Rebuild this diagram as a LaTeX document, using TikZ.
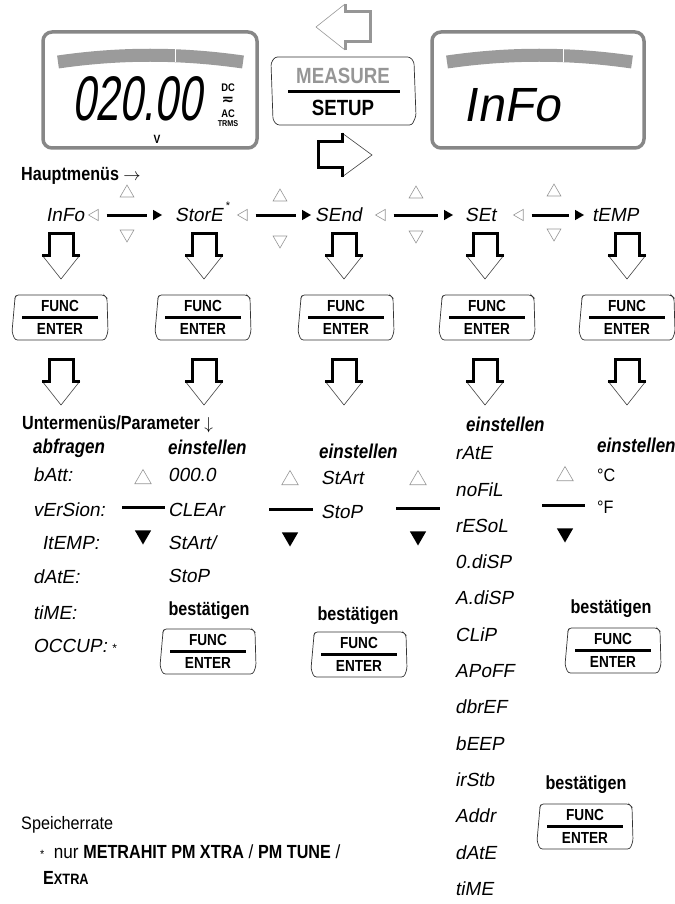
\documentclass[tikz,border=0pt]{standalone}
\usepackage{fontspec}
\setmainfont{Liberation Sans}
\newfontfamily\condfont[FakeStretch=0.85]{Liberation Sans}
\newfontfamily\notefont[FakeStretch=0.9]{Liberation Sans}
\newfontfamily\lcdfont[FakeSlant=0.18]{Liberation Sans}
\newfontfamily\lcdnarrow[FakeSlant=0.15,FakeStretch=0.67]{Liberation Sans}
\newfontfamily\symfont{DejaVu Sans}
\usetikzlibrary{shapes.geometric,positioning,calc}
\definecolor{lcdgray}{RGB}{135,135,135}
\definecolor{bargray}{RGB}{155,155,155}
\definecolor{markgray}{RGB}{150,150,150}

\newcommand{\lcdfnt}{\lcdfont\fontsize{19}{21}\selectfont}
\newcommand{\lblfnt}{\condfont\bfseries\fontsize{19}{21}\selectfont}
\newcommand{\italfnt}{\condfont\bfseries\itshape\fontsize{20}{22}\selectfont}
\newcommand{\keyfnt}{\condfont\bfseries\fontsize{16}{17}\selectfont}
\newcommand{\boldcond}{\condfont\bfseries}

% key cap with FUNC / ENTER
\newcommand{\funckey}[3]{%
  \begin{scope}[shift={(#2,#3)}]
    \draw[keyframe] (-44,-22) -- (44,-22) -- (47,-19) -- (48,15) -- (45,23)
       -- (-45,23) -- (-48,15) -- (-45,-19) -- cycle;
    \node[keytxt] (#1f) at (0,-11) {FUNC};
    \node[keytxt] (#1e) at (0,12) {ENTER};
    \draw[line width=3pt] (-38,0) -- (38,0);
  \end{scope}}

% press arrow pointing down, #1/#2 = top of the pulse
\newcommand{\pressdown}[2]{%
  \draw[tipline] (#1-19,#2+22) -- (#1,#2+46) -- (#1+19,#2+22);
  \draw[pulse] (#1-19,#2+22) -- (#1-12,#2+22) -- (#1-12,#2) -- (#1+12,#2)
     -- (#1+12,#2+22) -- (#1+19,#2+22);}

\begin{document}
\begin{tikzpicture}[x=1pt,y=-1pt,
   lcd/.style={font=\lcdfnt,inner sep=0pt,anchor=west},
   lbl/.style={font=\lblfnt,inner sep=0pt},
   ital/.style={font=\italfnt,inner sep=0pt,anchor=west},
   keytxt/.style={font=\keyfnt,inner sep=0pt},
   keyframe/.style={draw=black!80,line width=0.7pt,rounded corners=2.5pt,fill=white},
   hol/.style={regular polygon,regular polygon sides=3,draw=markgray,line width=0.6pt,inner sep=0pt},
   sol/.style={regular polygon,regular polygon sides=3,fill=black,inner sep=0pt},
   sepline/.style={line width=3pt},
   pulse/.style={line width=3pt,line join=miter},
   tipline/.style={draw=black!75,line width=0.6pt},
   lcdframe/.style={draw=lcdgray,line width=3.5pt,rounded corners=9pt},
   bar/.style={draw=bargray,line width=13pt}]
  \useasboundingbox (0,0) rectangle (674,904);

  % displays
  \draw[lcdframe] (43,32) rectangle (257,148);
  \draw[bar] (58,62) .. controls (120,53) and (180,53) .. (243,62);
  \draw[white,line width=0.6pt] (175,49) -- (175,62);
  \node[font=\lcdnarrow\fontsize{63}{63}\selectfont,inner sep=0pt,text depth=0pt] (val) at (137,99) {020.00};
  \node[font=\boldcond\fontsize{12}{12}\selectfont,inner sep=0pt] (unit) at (157,139.5) {V};
  \node[font=\boldcond\fontsize{11}{11}\selectfont,inner sep=0pt] (dc) at (228,88) {DC};
  \node[font=\symfont\bfseries\fontsize{15}{15}\selectfont,inner sep=0pt] (acdc) at (228,101) {≂};
  \node[font=\boldcond\fontsize{11}{11}\selectfont,inner sep=0pt] (ac) at (228,114) {AC};
  \node[font=\boldcond\fontsize{8.5}{9}\selectfont,inner sep=0pt] (trms) at (228,124) {TRMS};

  \draw[lcdframe] (432,32) rectangle (644,148);
  \draw[bar] (447,62) .. controls (509,53) and (569,53) .. (632,62);
  \draw[white,line width=0.6pt] (563,49) -- (563,62);
  \node[font=\lcdfont\fontsize{48}{48}\selectfont,inner sep=0pt] (infodisp) at (512,105) {InFo};

  % MEASURE / SETUP key and its arrows
  \draw[keyframe] (275,57) -- (410,57) -- (414,62) -- (416,116) -- (412,125)
     -- (277,125) -- (273,120) -- (271,63) -- cycle;
  \node[font=\boldcond\fontsize{22}{22}\selectfont,text=markgray,inner sep=0pt] (meas) at (343,76) {MEASURE};
  \node[font=\boldcond\fontsize{22}{22}\selectfont,inner sep=0pt] (setup) at (343,108) {SETUP};
  \draw[line width=3pt] (288,92) -- (400,92);
  \draw[tipline,draw=markgray] (345,4) -- (316,27) -- (345,50);
  \draw[pulse,markgray] (345,4) -- (345,12) -- (370,12) -- (370,42) -- (345,42) -- (345,50);
  \draw[tipline] (342,133) -- (372,155) -- (342,177);
  \draw[pulse] (342,133) -- (342,142) -- (318,142) -- (318,168) -- (342,168) -- (342,177);

  % main menus
  \node[lbl,anchor=west] (haupt) at (21,176) {Hauptmenüs $\rightarrow$};
  \node[lcd] (info) at (46,215) {InFo};
  \node[lcd] (store) at (175,215) {StorE};
  \node[font=\rmfamily\fontsize{11}{11}\selectfont,inner sep=0pt] (star) at (228,206) {*};
  \node[lcd] (send) at (315,215) {SEnd};
  \node[lcd] (set) at (465,215) {SEt};
  \node[lcd] (temp) at (592,215) {tEMP};
  \foreach \lx/\rx/\ux/\uy/\dy [count=\i] in
      {95/156/127/193/234,244/305/280/197/240,382/447/416/194/235,520/578/554/192/233}{
    \node[hol,minimum size=13pt,shape border rotate=90] (l\i) at (\lx,215) {};
    \node[sol,minimum size=12pt,shape border rotate=-90] (r\i) at (\rx,215) {};
    \draw[sepline,shorten <=8pt,shorten >=6pt] (l\i) -- (r\i);
    \node[hol,minimum size=16pt] (u\i) at (\ux,\uy) {};
    \node[hol,minimum size=16pt,shape border rotate=180] (d\i) at (\ux,\dy) {};
  }

  % FUNC / ENTER row
  \foreach \x in {61,204,344,485,627}{
    \pressdown{\x}{233}
    \pressdown{\x}{359}
  }
  \foreach \x [count=\i] in {60,203,346,487,627}{
    \funckey{k\i}{\x}{317}
  }

  % sub menus
  \node[lbl,anchor=west] (unter) at (22,424) {Untermenüs/Parameter $\downarrow$};
  \node[ital] (abfr) at (33,448) {abfragen};
  \node[lcd] (batt) at (33,475) {bAtt:};
  \node[lcd] (vers) at (33,510) {vErSion:};
  \node[lcd] (itemp) at (42,543) {ItEMP:};
  \node[lcd] (date1) at (33,577) {dAtE:};
  \node[lcd] (time1) at (33,613) {tiME:};
  \node[lcd] (occup) at (33,646) {OCCUP: {\rmfamily\fontsize{12}{12}\selectfont *}};

  \node[ital] (ein2) at (168,447) {einstellen};
  \node[lcd] (zero) at (168,475) {000.0};
  \node[lcd] (clear) at (168,510) {CLEAr};
  \node[lcd] (start1) at (168,543) {StArt/};
  \node[lcd] (stop1) at (168,576) {StoP};

  \node[ital] (ein3) at (319,451) {einstellen};
  \node[lcd] (start2) at (321,478) {StArt};
  \node[lcd] (stop2) at (321,512) {StoP};

  \node[ital] (ein4) at (466,424) {einstellen};
  \foreach \t [count=\i] in {rAtE,noFiL,rESoL,0.diSP,A.diSP,CLiP,APoFF,dbrEF,bEEP,irStb,Addr,dAtE,tiME}{
    \node[lcd] (p\i) at (455,416.7+36.3*\i) {\t};
  }

  \node[ital] (ein5) at (597,445) {einstellen};
  \node[font=\notefont\fontsize{18}{20}\selectfont,inner sep=0pt,anchor=west] (degc) at (597,475) {°C};
  \node[font=\notefont\fontsize{18}{20}\selectfont,inner sep=0pt,anchor=west] (degf) at (597,507) {°F};

  \foreach \tx/\ty/\ly/\la/\lb/\by [count=\i] in
      {143/479/507/122/165/535,290/480/509/269/313/537,418/480/508/396/440/536,565/476/505/542/585/533}{
    \node[hol,minimum size=19pt] (su\i) at (\tx,\ty) {};
    \coordinate (sa\i) at (\la,\ly);
    \coordinate (sb\i) at (\lb,\ly);
    \draw[sepline] (sa\i) -- (sb\i);
    \node[sol,minimum size=19pt,shape border rotate=180] (sd\i) at (\tx,\by) {};
  }

  % confirm keys
  \node[lbl] (conf2) at (209,611) {bestätigen};
  \funckey{c2}{208}{651}
  \node[lbl] (conf3) at (358,616) {bestätigen};
  \funckey{c3}{359}{654}
  \node[lbl] (conf5) at (611,609) {bestätigen};
  \funckey{c5}{613}{650}
  \node[lbl] (conf4) at (586,785) {bestätigen};
  \funckey{c4}{585}{826}

  % notes
  \node[font=\notefont\fontsize{18}{20}\selectfont,inner sep=0pt,anchor=west] (rate) at (21,825) {Speicherrate};
  \node[font=\notefont\fontsize{19}{21}\selectfont,inner sep=0pt,anchor=west] (only) at (40,852)
     {{\fontsize{12}{12}\selectfont *}\ \ nur {\boldcond METRAHIT PM XTRA} / {\boldcond PM TUNE} /};
  \node[font=\boldcond\fontsize{19}{21}\selectfont,inner sep=0pt,anchor=west] (extra) at (43,878)
     {E{\fontsize{15}{15}\selectfont XTRA}};
\end{tikzpicture}
\end{document}
